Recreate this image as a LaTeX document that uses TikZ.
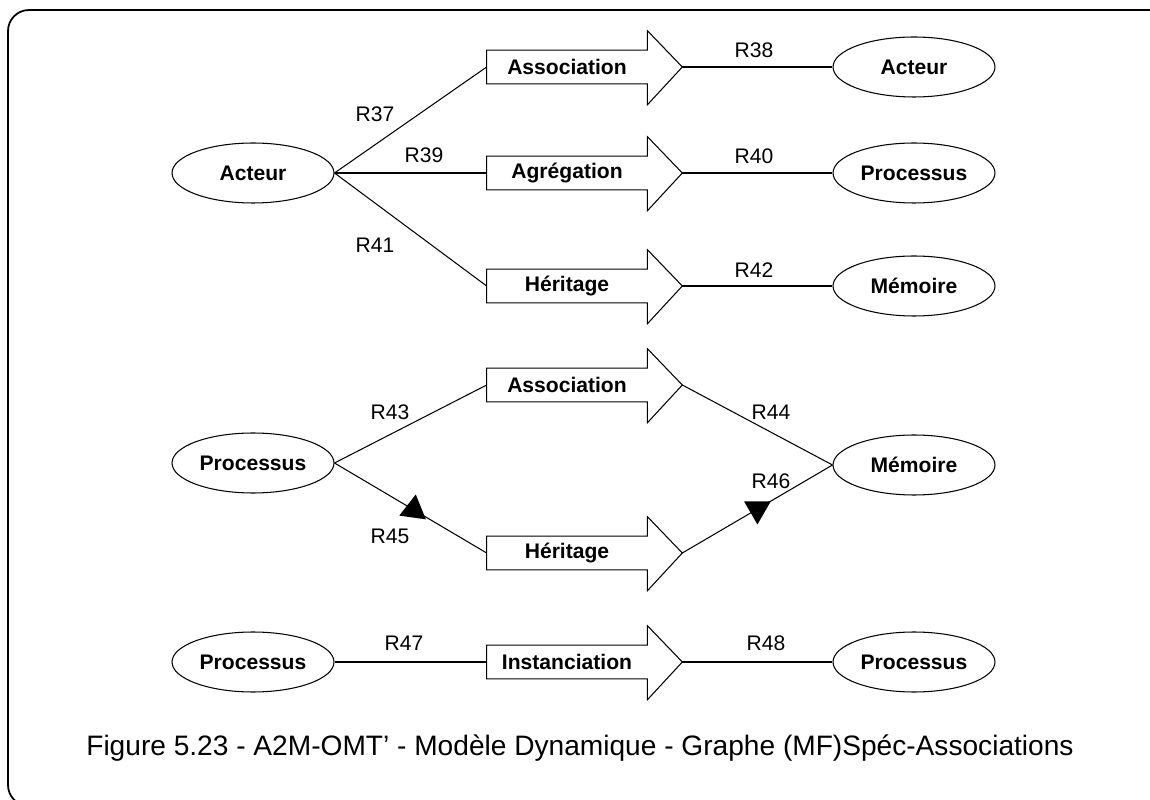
\documentclass[tikz,border=0pt]{standalone}
\usepackage{fontspec}
\setmainfont{Liberation Sans}
\usepackage{tikz}
\usetikzlibrary{shapes.geometric, positioning}
\tikzstyle{classe} = [draw, ellipse, minimum width=3.24cm, minimum height=1.2cm, inner sep=0pt, line width=0.6pt, font=\bfseries\fontsize{12}{14}\selectfont]
\tikzstyle{lien} = [rectangle, minimum width=3.2cm, minimum height=0.66cm, inner sep=0pt, font=\bfseries\fontsize{12}{14}\selectfont]
\tikzstyle{role} = [inner sep=0pt, font=\fontsize{12}{14}\selectfont]
\tikzstyle{line} = [line width=0.6pt, black]
\tikzstyle{sens} = [regular polygon, regular polygon sides=3, fill=black, inner sep=0pt, minimum size=0.62cm]
% contour de la grosse fleche autour d'un noeud lien
\newcommand{\fleche}[1]{%
  \coordinate (#1-tip) at ([xshift=0.7cm]#1.east);
  \draw [line] (#1.north west) -- (#1.north east) -- ([yshift=0.39cm]#1.north east) -- (#1-tip)
    -- ([yshift=-0.42cm]#1.south east) -- (#1.south east) -- (#1.south west) -- cycle;}

\begin{document}
\begin{tikzpicture}[x=0.02cm, y=-0.02cm]
    \useasboundingbox (0,0) rectangle (1150,800);
    \draw [line width=1pt, rounded corners=0.42cm] (8,10) rectangle (1172,806);

    % Acteur -> Acteur / Processus / Memoire
    \node (acteur) [classe] at (253,173) {Acteur};
    \node (assoc1) [lien] at (567,67) {Association};
    \node (agreg) [lien] at (567,173) {Agrégation};
    \node (herit1) [lien] at (567,286) {Héritage};
    \fleche{assoc1} \fleche{agreg} \fleche{herit1}
    \node (acteur2) [classe] at (914,67) {Acteur};
    \node (proc1) [classe] at (914,173) {Processus};
    \node (mem1) [classe] at (914,286) {Mémoire};
    \draw [line] (acteur.east) -- (assoc1.west);
    \draw [line] (acteur.east) -- (agreg.west);
    \draw [line] (acteur.east) -- (herit1.west);
    \draw [line] (assoc1-tip) -- (acteur2.west);
    \draw [line] (agreg-tip) -- (proc1.west);
    \draw [line] (herit1-tip) -- (mem1.west);
    \node (r37) [role] at (375,114) {R37};
    \node (r39) [role] at (424,155) {R39};
    \node (r41) [role] at (375,245) {R41};
    \node (r38) [role] at (754,50) {R38};
    \node (r40) [role] at (754,156) {R40};
    \node (r42) [role] at (754,270) {R42};

    % Processus -> Memoire
    \node (proc2) [classe] at (253,463) {Processus};
    \node (assoc2) [lien] at (567,385) {Association};
    \node (herit2) [lien] at (567,553) {Héritage};
    \fleche{assoc2} \fleche{herit2}
    \node (mem2) [classe] at (914,465) {Mémoire};
    \draw [line] (proc2.east) -- (assoc2.west);
    \draw [line] (proc2.east) -- node (sens1) [sens, pos=0.52, rotate=-8] {} (herit2.west);
    \draw [line] (assoc2-tip) -- (mem2.west);
    \draw [line] (herit2-tip) -- node (sens2) [sens, pos=0.5, rotate=180] {} (mem2.west);
    \node (r43) [role] at (390,412) {R43};
    \node (r45) [role] at (390,536) {R45};
    \node (r44) [role] at (771,412) {R44};
    \node (r46) [role] at (771,481) {R46};

    % Processus -> Processus
    \node (proc3) [classe] at (253,662) {Processus};
    \node (inst) [lien] at (567,662) {Instanciation};
    \fleche{inst}
    \node (proc4) [classe] at (914,662) {Processus};
    \draw [line] (proc3.east) -- (inst.west);
    \draw [line] (inst-tip) -- (proc4.west);
    \node (r47) [role] at (404,643) {R47};
    \node (r48) [role] at (766,643) {R48};

    \node (legende) [inner sep=0pt, font=\fontsize{16}{18}\selectfont] at (580,748)
      {Figure 5.23 - A2M-OMT’ - Modèle Dynamique - Graphe (MF)Spéc-Associations};
\end{tikzpicture}
\end{document}
